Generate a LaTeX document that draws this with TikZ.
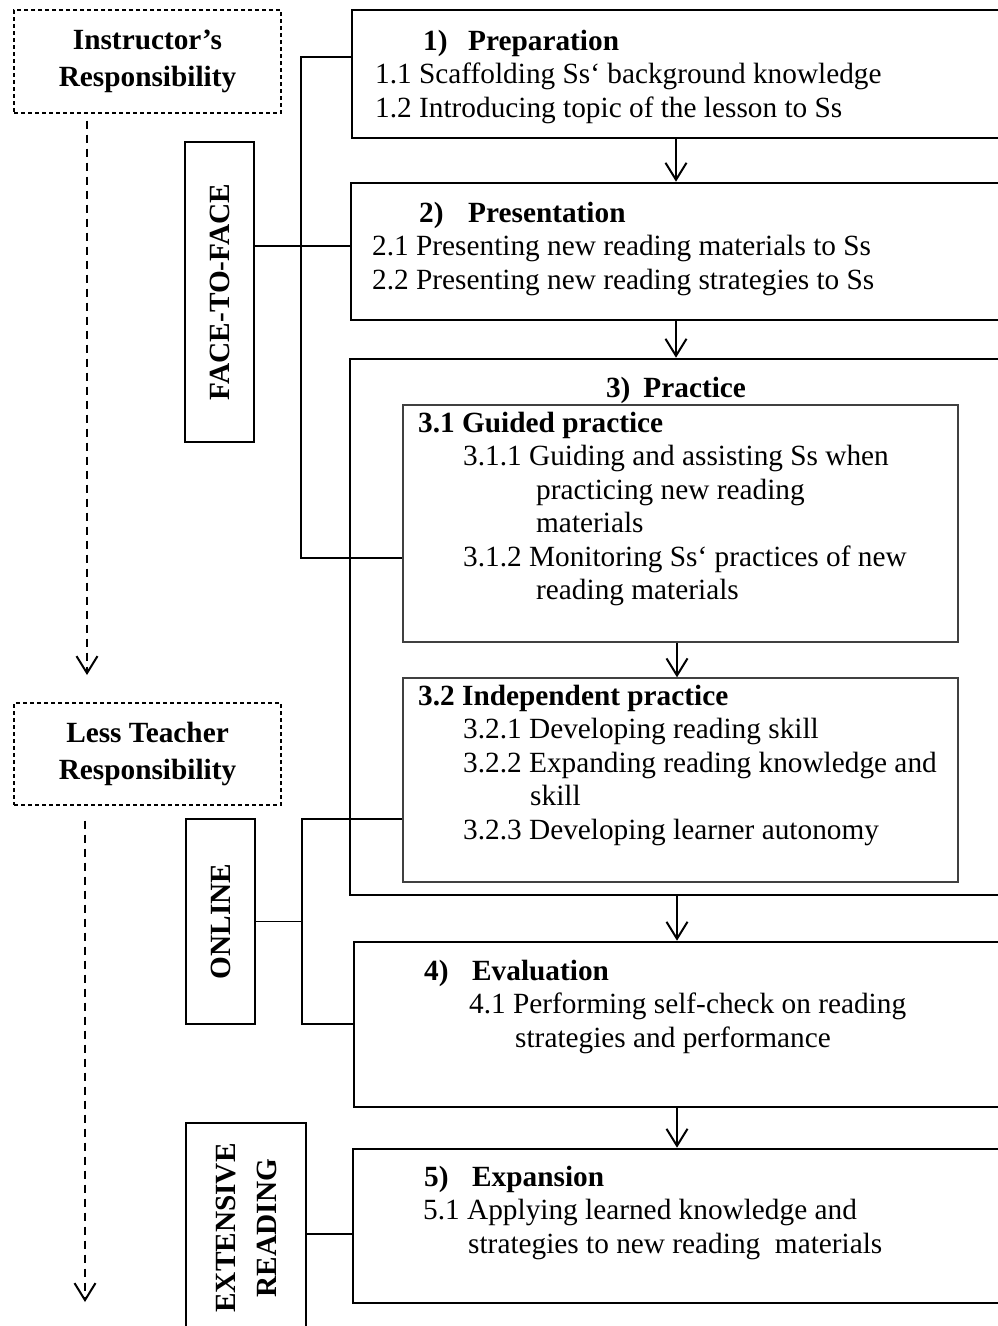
\documentclass[tikz,border=0pt]{standalone}
\usepackage{fontspec}
\setmainfont{Liberation Serif}
\usetikzlibrary{arrows.meta}

\newcommand{\textrows}[1]{\begin{tabular}[t]{@{}l@{}}#1\end{tabular}}

\begin{document}
\begin{tikzpicture}[x = 1pt, y = -1pt,
        font = \fontsize{29.3}{33.5}\selectfont,
        stepbox/.style = {draw, rectangle, line width = 2.6pt, inner sep = 0pt},
        subbox/.style = {draw = black!75, rectangle, line width = 1.4pt, inner sep = 0pt},
        modebox/.style = {draw, rectangle, line width = 2pt, rotate = 90, inner sep = 0pt, align = center, font = \fontsize{29.3}{33.5}\selectfont\bfseries},
        rolebox/.style = {draw, rectangle, line width = 1.2pt, dash pattern = on 4pt off 3pt, inner sep = 0pt, align = center, font = \fontsize{29.3}{33.5}\selectfont\bfseries},
        txt/.style = {inner sep = 0pt, anchor = base west},
        link/.style = {line width = 1.7pt},
        flow/.style = {line width = 2pt, -{Straight Barb[length = 17pt, width = 21pt]}},
        roleflow/.style = {line width = 2pt, dash pattern = on 8pt off 6pt, -{Straight Barb[length = 17pt, width = 21pt]}}
    ]
    \clip (0, 0) rectangle (998, 1326);

    \draw
        (147.5, 61.5) node (instr) [rolebox, minimum width = 267pt, minimum height = 103pt] {Instructor’s\\[4pt]Responsibility}
        (147.5, 754) node (less) [rolebox, minimum width = 267pt, minimum height = 102pt] {Less Teacher\\[4pt]Responsibility}

        (219.5, 292) node (ftf) [modebox, minimum width = 300pt, minimum height = 69pt] {FACE-TO-FACE}
        (220.5, 921.5) node (online) [modebox, minimum width = 205pt, minimum height = 69pt] {ONLINE}
        (246, 1228) node (extens) [modebox, minimum width = 210pt, minimum height = 120pt] {EXTENSIVE\\[7.5pt]READING}

        (676, 74) node (prep) [stepbox, minimum width = 648pt, minimum height = 128pt] {}
        (676, 251.5) node (pres) [stepbox, minimum width = 650pt, minimum height = 137pt] {}
        (677, 627) node (prac) [stepbox, minimum width = 654pt, minimum height = 536pt] {}
        (680.5, 523.5) node (guided) [subbox, minimum width = 555pt, minimum height = 237pt] {}
        (680.5, 780) node (indep) [subbox, minimum width = 555pt, minimum height = 204pt] {}
        (677, 1024.5) node (eval) [stepbox, minimum width = 646pt, minimum height = 165pt] {}
        (677, 1226) node (expan) [stepbox, minimum width = 648pt, minimum height = 154pt] {}
    ;

    % texts of the steps
    \node[txt] (prept) at (375, 50) {\textrows{\hspace*{48pt}\makebox[45pt][l]{\textbf{1)}}\textbf{Preparation}\\
        1.1 Scaffolding Ss‘ background knowledge\\
        1.2 Introducing topic of the lesson to Ss}};
    \node[txt] (prest) at (372, 222) {\textrows{\hspace*{47pt}\makebox[49pt][l]{\textbf{2)}}\textbf{Presentation}\\
        2.1 Presenting new reading materials to Ss\\
        2.2 Presenting new reading strategies to Ss}};
    \node[inner sep = 0pt, anchor = base] (pract) at (676, 397) {\textbf{3)\hspace{13pt}Practice}};
    \node[txt] (guidedt) at (418, 432) {\textrows{\textbf{3.1 Guided practice}\\
        \hspace*{45pt}3.1.1 Guiding and assisting Ss when\\
        \hspace*{118pt}practicing new reading\\
        \hspace*{118pt}materials\\
        \hspace*{45pt}3.1.2 Monitoring Ss‘ practices of new\\
        \hspace*{118pt}reading materials}};
    \node[txt] (indept) at (418, 705) {\textrows{\textbf{3.2 Independent practice}\\
        \hspace*{45pt}3.2.1 Developing reading skill\\
        \hspace*{45pt}3.2.2 Expanding reading knowledge and\\
        \hspace*{112pt}skill\\
        \hspace*{45pt}3.2.3 Developing learner autonomy}};
    \node[txt] (evalt) at (424, 980) {\textrows{\makebox[48pt][l]{\textbf{4)}}\textbf{Evaluation}\\
        \hspace*{45pt}4.1 Performing self-check on reading\\
        \hspace*{91pt}strategies and performance}};
    \node[txt] (expant) at (423, 1186) {\textrows{\hspace*{1pt}\makebox[48pt][l]{\textbf{5)}}\textbf{Expansion}\\
        5.1 Applying learned knowledge and\\
        \hspace*{45pt}strategies to new reading\ \ materials}};

    % brackets from the modes
    \coordinate (fa) at (301, 57);
    \coordinate (fb) at (301, 558);
    \coordinate (oa) at (302, 819);
    \coordinate (ob) at (302, 1024);
    \draw[link] (fa -| prep.west) -- (fa) -- (fb) -- (fb -| guided.west);
    \draw[link] ([yshift = 46pt]ftf.south) -- ([yshift = 46pt]ftf.south -| pres.west);
    \draw[link] (oa -| indep.west) -- (oa) -- (ob) -- (ob -| eval.west);
    \draw[link] (online.south) -- (online.south -| oa);
    \draw[link] ([yshift = -6pt]extens.south) -- ([yshift = -6pt]extens.south -| expan.west);

    % flow of the steps
    \draw[flow] (prep.south) -- (pres.north);
    \draw[flow] (pres.south) -- (pres.south |- prac.north);
    \draw[flow] (guided.south -| prac.north) -- (indep.north -| prac.north);
    \draw[flow] (prac.south) -- (prac.south |- eval.north);
    \draw[flow] (eval.south) -- (expan.north);

    % responsibility
    \coordinate (ra) at (87, 675);
    \coordinate (rb) at (85, 1302);
    \draw[roleflow] ([shift = {(-60.5pt, -7pt)}]instr.south) -- (ra);
    \draw[roleflow] ([shift = {(-62.5pt, -15pt)}]less.south) -- (rb);
\end{tikzpicture}
\end{document}
